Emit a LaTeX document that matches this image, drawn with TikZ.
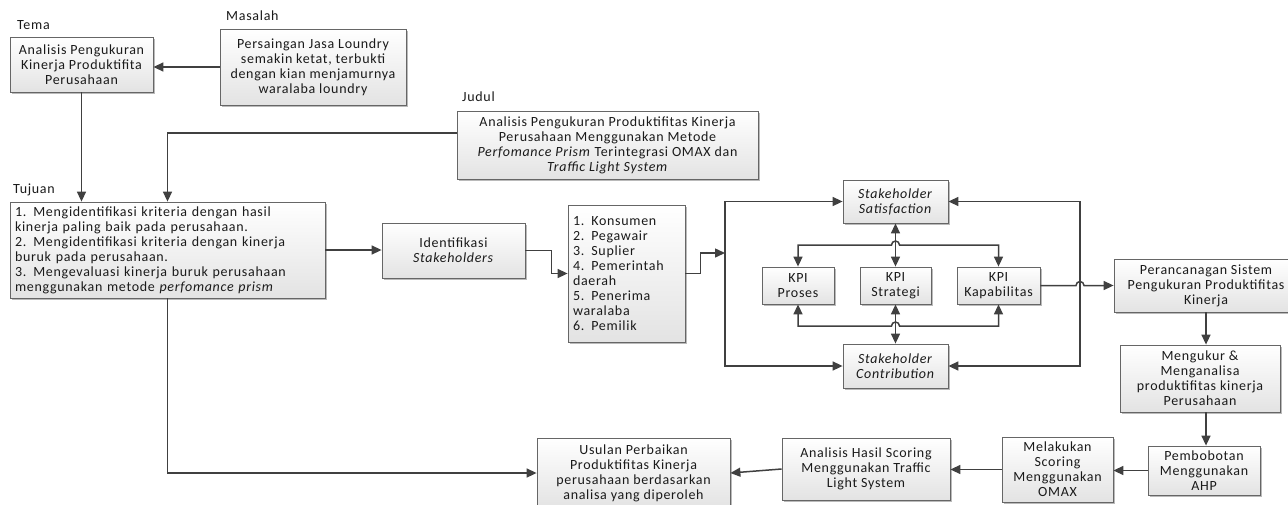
\documentclass[tikz,border=0pt]{standalone}
\usepackage{fontspec}
\setmainfont{Carlito}[LetterSpace=5]
\usetikzlibrary{arrows.meta,shadows,calc}
\definecolor{lnc}{HTML}{404040}
\definecolor{bdc}{HTML}{666666}
\definecolor{txc}{HTML}{1A1A1A}
\tikzset{
  fnt/.style={font=\fontsize{14pt}{15pt}\selectfont},
  box/.style={fnt, draw=bdc, line width=0.8pt, top color=white, bottom color=black!11,
    drop shadow={shadow xshift=1.5pt,shadow yshift=-1.5pt,fill=black!45,opacity=0.6},
    align=center, inner sep=3pt, text=txc},
  lbox/.style={box, align=left, inner xsep=4pt},
  lbl/.style={fnt, anchor=west, inner sep=0pt, text=txc},
  conn/.style={draw=lnc, line width=1.5pt, -{Triangle[length=10pt,width=9pt]}},
  conn2/.style={draw=lnc, line width=1.5pt, {Triangle[length=10pt,width=9pt]}-{Triangle[length=10pt,width=9pt]}},
}
\begin{document}
\begin{tikzpicture}[x=1pt,y=-1pt]
\useasboundingbox (0,0) rectangle (1288,504);

% labels
\node[lbl] (ltema) at (17,25) {Tema};
\node[lbl] (lmas) at (226,16) {Masalah};
\node[lbl] (ljud) at (462,97) {Judul};
\node[lbl] (ltuj) at (13,190) {Tujuan};

% boxes
\node[box, minimum width=143pt, minimum height=55pt] (tema) at (81.5,64.5)
  {Analisis Pengukuran\\Kinerja Produktifita\\Perusahaan};
\node[box, minimum width=186pt, minimum height=76pt] (mas) at (313,67)
  {Persaingan Jasa Loundry\\semakin ketat, terbukti\\dengan kian menjamurnya\\waralaba loundry};
\node[box, minimum width=301pt, minimum height=68pt] (jud) at (607.5,145)
  {Analisis Pengukuran Produktifitas Kinerja\\Perusahaan Menggunakan Metode\\\textit{Perfomance Prism} Terintegrasi OMAX dan\\\textit{Traffic Light System}};
\node[lbox, text width=305pt, minimum width=315pt, minimum height=96pt] (tuj) at (167.5,250)
  {1. Mengidentifikasi kriteria dengan hasil\\kinerja paling baik pada perusahaan.\\2. Mengidentifikasi kriteria dengan kinerja\\buruk pada perusahaan.\\3. Mengevaluasi kinerja buruk perusahaan\\menggunakan metode \textit{perfomance prism}};
\node[box, minimum width=143pt, minimum height=55pt] (ident) at (453.5,250.5)
  {Identifikasi\\\textit{Stakeholders}};
\node[lbox, text width=107pt, minimum width=117pt, minimum height=137pt] (list) at (626.5,273.5)
  {1. Konsumen\\2. Pegawair\\3. Suplier\\4. Pemerintah\\daerah\\5. Penerima\\waralaba\\6. Pemilik};
\node[box, minimum width=105pt, minimum height=43pt] (sat) at (895.5,201.5)
  {\textit{Stakeholder}\\\textit{Satisfaction}};
\node[box, minimum width=105pt, minimum height=44pt] (con) at (895.5,366)
  {\textit{Stakeholder}\\\textit{Contribution}};
\node[box, minimum width=72pt, minimum height=37pt] (pro) at (798,285.5) {KPI\\Proses};
\node[box, minimum width=71pt, minimum height=37pt] (str) at (895.5,285.5) {KPI\\Strategi};
\node[box, minimum width=83pt, minimum height=37pt] (kap) at (998.5,285.5) {KPI\\Kapabilitas};
\node[box, minimum width=184pt, minimum height=53pt] (per) at (1206,285.5)
  {Perancanagan Sistem\\Pengukuran Produktifitas\\Kinerja};
\node[box, minimum width=160pt, minimum height=67pt] (ukur) at (1200,378.5)
  {Mengukur \&\\Menganalisa\\produktifitas kinerja\\Perusahaan};
\node[box, minimum width=112pt, minimum height=49pt] (bobot) at (1204,470.5)
  {Pembobotan\\Menggunakan\\AHP};
\node[box, minimum width=111pt, minimum height=65pt] (omax) at (1057.5,469.5)
  {Melakukan\\Scoring\\Menggunakan\\OMAX};
\node[box, minimum width=168pt, minimum height=62pt] (tls) at (866,469)
  {Analisis Hasil Scoring\\Menggunakan Traffic\\Light System};
\node[box, minimum width=193pt, minimum height=70pt] (usul) at (633.5,473)
  {Usulan Perbaikan\\Produktifitas Kinerja\\perusahaan berdasarkan\\analisa yang diperoleh};

% helper coordinates
\coordinate (th) at (0,245);
\coordinate (bh) at (0,326);
\coordinate (lbin) at (725,253);
\coordinate (lbb) at (725,366);
\coordinate (rbb) at (1080,366);

% connectors
\draw[conn] (mas.west) -- (mas.west -| tema.east);
\draw[conn] (tema.south) -- (tema.south |- tuj.north);
\draw[conn] ([yshift=12pt]jud.west) -| (tuj.north);
\draw[conn] (tuj.east) -- (tuj.east -| ident.west);
\draw[conn] (ident.east) -- ++(26,0) |- (list.west);
\draw[conn] (list.east) -- ++(15,0) |- (lbin);
\draw[conn2] (sat.west) -| (lbb) -- (con.west);
\draw[conn2] (sat.east) -| (rbb) -- (con.east);
\draw[conn2] (sat.south) -- (str.north);
\draw[conn2] (str.south) -- (con.north);
\draw[conn2] (pro.north) |- ($(str.north |- th)+(-4,0)$) arc[start angle=180,end angle=0,radius=4pt] -| (kap.north);
\draw[conn2] (pro.south) |- ($(str.south |- bh)+(-4,0)$) arc[start angle=180,end angle=0,radius=4pt] -| (kap.south);
\draw[conn] (kap.east) -- ($(kap.east -| rbb)+(-4,0)$) arc[start angle=180,end angle=0,radius=4pt] -- (per.west);
\draw[conn] (per.south) -- (per.south |- ukur.north);
\draw[conn] (ukur.south -| per.south) -- (bobot.north -| per.south);
\draw[conn] (bobot.west) -- (bobot.west -| omax.east);
\draw[conn] (omax.west) -- (omax.west -| tls.east);
\draw[conn] (tls.west) -- (usul.east);
\draw[conn] (tuj.south) |- (usul.west);
\end{tikzpicture}
\end{document}
